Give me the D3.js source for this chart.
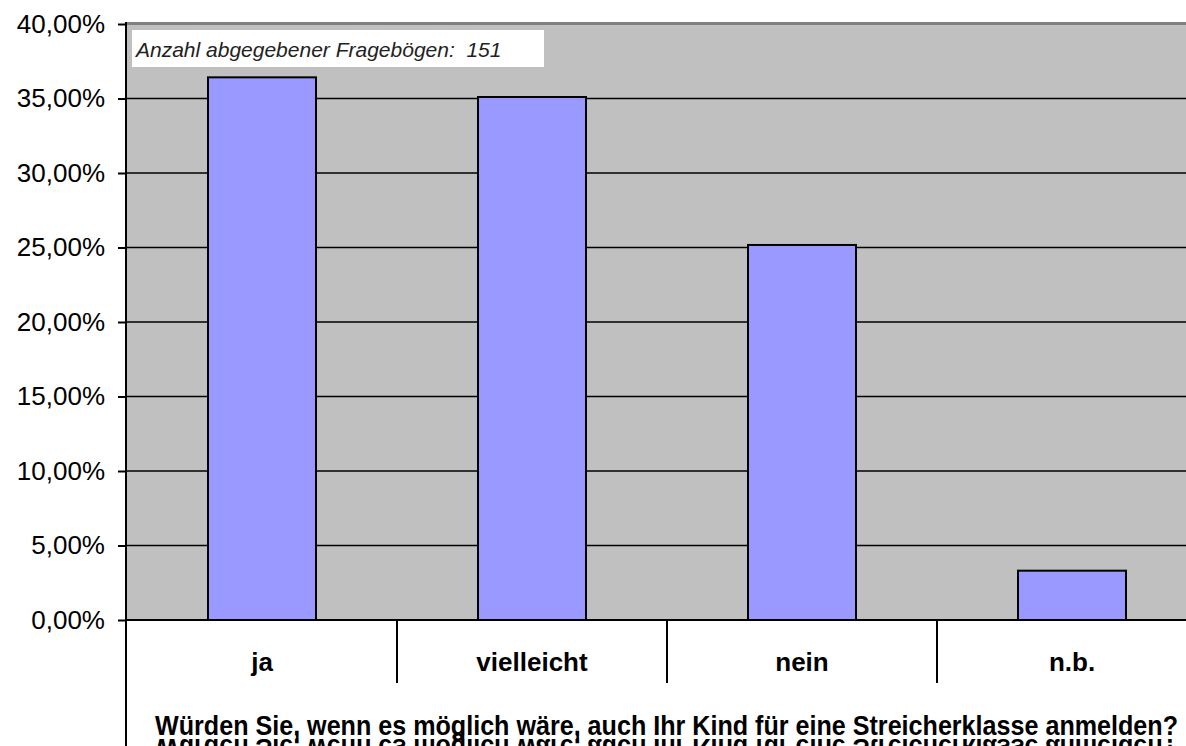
<!DOCTYPE html>
<html lang="de">
  <head>
    <meta charset="utf-8" />
    <title>Streicherklasse</title>
    <script src="https://cdn.jsdelivr.net/npm/d3@7"></script>
    <style>
      body { margin: 0; background: #fff; }
      text { font-family: Arial, "Liberation Sans", sans-serif; }
    </style>
  </head>
  <body>
    <script>
      // antworten (151 fragebögen)
      var categories = ["ja", "vielleicht", "nein", "n.b."];
      var values = [36.42, 35.10, 25.17, 3.31];
      var yTicks = [0, 5, 10, 15, 20, 25, 30, 35, 40];
      var note = "Anzahl abgegebener Fragebögen:  151";
      var title = "Würden Sie, wenn es möglich wäre, auch Ihr Kind für eine Streicherklasse anmelden?";

      var w = 1186, h = 746;
      // plot area edges (right edge lies outside the picture, as in the original)
      var pLeft = 127, pRight = 1207, pTop = 24, pBottom = 620;

      var svg = d3.select("body").append("svg")
        .attr("width", w).attr("height", h);

      var x = d3.scaleBand().domain(categories).range([pLeft, pRight]).padding(0);
      var y = d3.scaleLinear().domain([0, 40]).range([pBottom, pTop]);

      // plot area
      svg.append("rect")
        .attr("x", pLeft).attr("y", pTop)
        .attr("width", pRight - pLeft).attr("height", pBottom - pTop)
        .attr("fill", "#c0c0c0");
      svg.append("line")
        .attr("x1", pLeft).attr("x2", pRight)
        .attr("y1", pTop - 0.5).attr("y2", pTop - 0.5)
        .attr("stroke", "#808080").attr("stroke-width", 3);

      // gridlines
      svg.selectAll("line.grid")
        .data(yTicks.slice(1, -1))
        .enter().append("line")
        .attr("class", "grid")
        .attr("x1", pLeft).attr("x2", pRight)
        .attr("y1", function (d) { return y(d); })
        .attr("y2", function (d) { return y(d); })
        .attr("stroke", "#000").attr("stroke-width", 1.5);

      // annotation box
      svg.append("rect")
        .attr("x", 132).attr("y", 30).attr("width", 412).attr("height", 37)
        .attr("fill", "#fff");
      svg.append("text")
        .attr("x", 136).attr("y", 57)
        .attr("font-size", 21).attr("font-style", "italic")
        .attr("fill", "#222")
        .attr("xml:space", "preserve")
        .text(note);

      // bars
      var barW = x.bandwidth() * 0.4;
      svg.selectAll("rect.bar")
        .data(values)
        .enter().append("rect")
        .attr("class", "bar")
        .attr("x", function (d, i) { return x(categories[i]) + (x.bandwidth() - barW) / 2; })
        .attr("y", function (d) { return y(d); })
        .attr("width", barW)
        .attr("height", function (d) { return pBottom - y(d); })
        .attr("fill", "#9999ff")
        .attr("stroke", "#000").attr("stroke-width", 2);

      // y axis
      var yAxis = d3.axisLeft(y)
        .tickValues(yTicks)
        .tickSize(9)
        .tickPadding(13)
        .tickFormat(function (d) { return d3.format(".2f")(d).replace(".", ",") + "%"; });
      var ya = svg.append("g")
        .attr("transform", "translate(" + pLeft + ",0)")
        .call(yAxis);
      ya.select(".domain").remove();
      ya.selectAll(".tick line").attr("stroke", "#000").attr("stroke-width", 2);
      ya.selectAll(".tick text")
        .attr("font-family", "Arial, 'Liberation Sans', sans-serif")
        .attr("font-size", 26).attr("fill", "#000");

      svg.append("line")
        .attr("x1", pLeft - 1).attr("x2", pLeft - 1)
        .attr("y1", pTop - 2).attr("y2", h)
        .attr("stroke", "#000").attr("stroke-width", 2);
      svg.append("line")
        .attr("x1", pLeft).attr("x2", pRight)
        .attr("y1", pBottom).attr("y2", pBottom)
        .attr("stroke", "#000").attr("stroke-width", 2);

      // category separators and labels
      svg.selectAll("line.sep")
        .data(categories.slice(1))
        .enter().append("line")
        .attr("class", "sep")
        .attr("x1", function (d) { return x(d); })
        .attr("x2", function (d) { return x(d); })
        .attr("y1", pBottom).attr("y2", 683)
        .attr("stroke", "#000").attr("stroke-width", 2);

      svg.selectAll("text.cat")
        .data(categories)
        .enter().append("text")
        .attr("class", "cat")
        .attr("x", function (d) { return x(d) + x.bandwidth() / 2; })
        .attr("y", 671)
        .attr("text-anchor", "middle")
        .attr("font-size", 26).attr("font-weight", "bold")
        .text(function (d) { return d; });

      // axis title (and its clipped mirror below, as in the original export)
      svg.append("text")
        .attr("x", 155).attr("y", 735)
        .attr("font-size", 28).attr("font-weight", "bold")
        .attr("textLength", 1023).attr("lengthAdjust", "spacingAndGlyphs")
        .text(title);
      svg.append("text")
        .attr("x", 155).attr("y", 735)
        .attr("transform", "translate(0," + (2 * 737) + ") scale(1,-1)")
        .attr("font-size", 28).attr("font-weight", "bold")
        .attr("textLength", 1023).attr("lengthAdjust", "spacingAndGlyphs")
        .text(title);
    </script>
  </body>
</html>
